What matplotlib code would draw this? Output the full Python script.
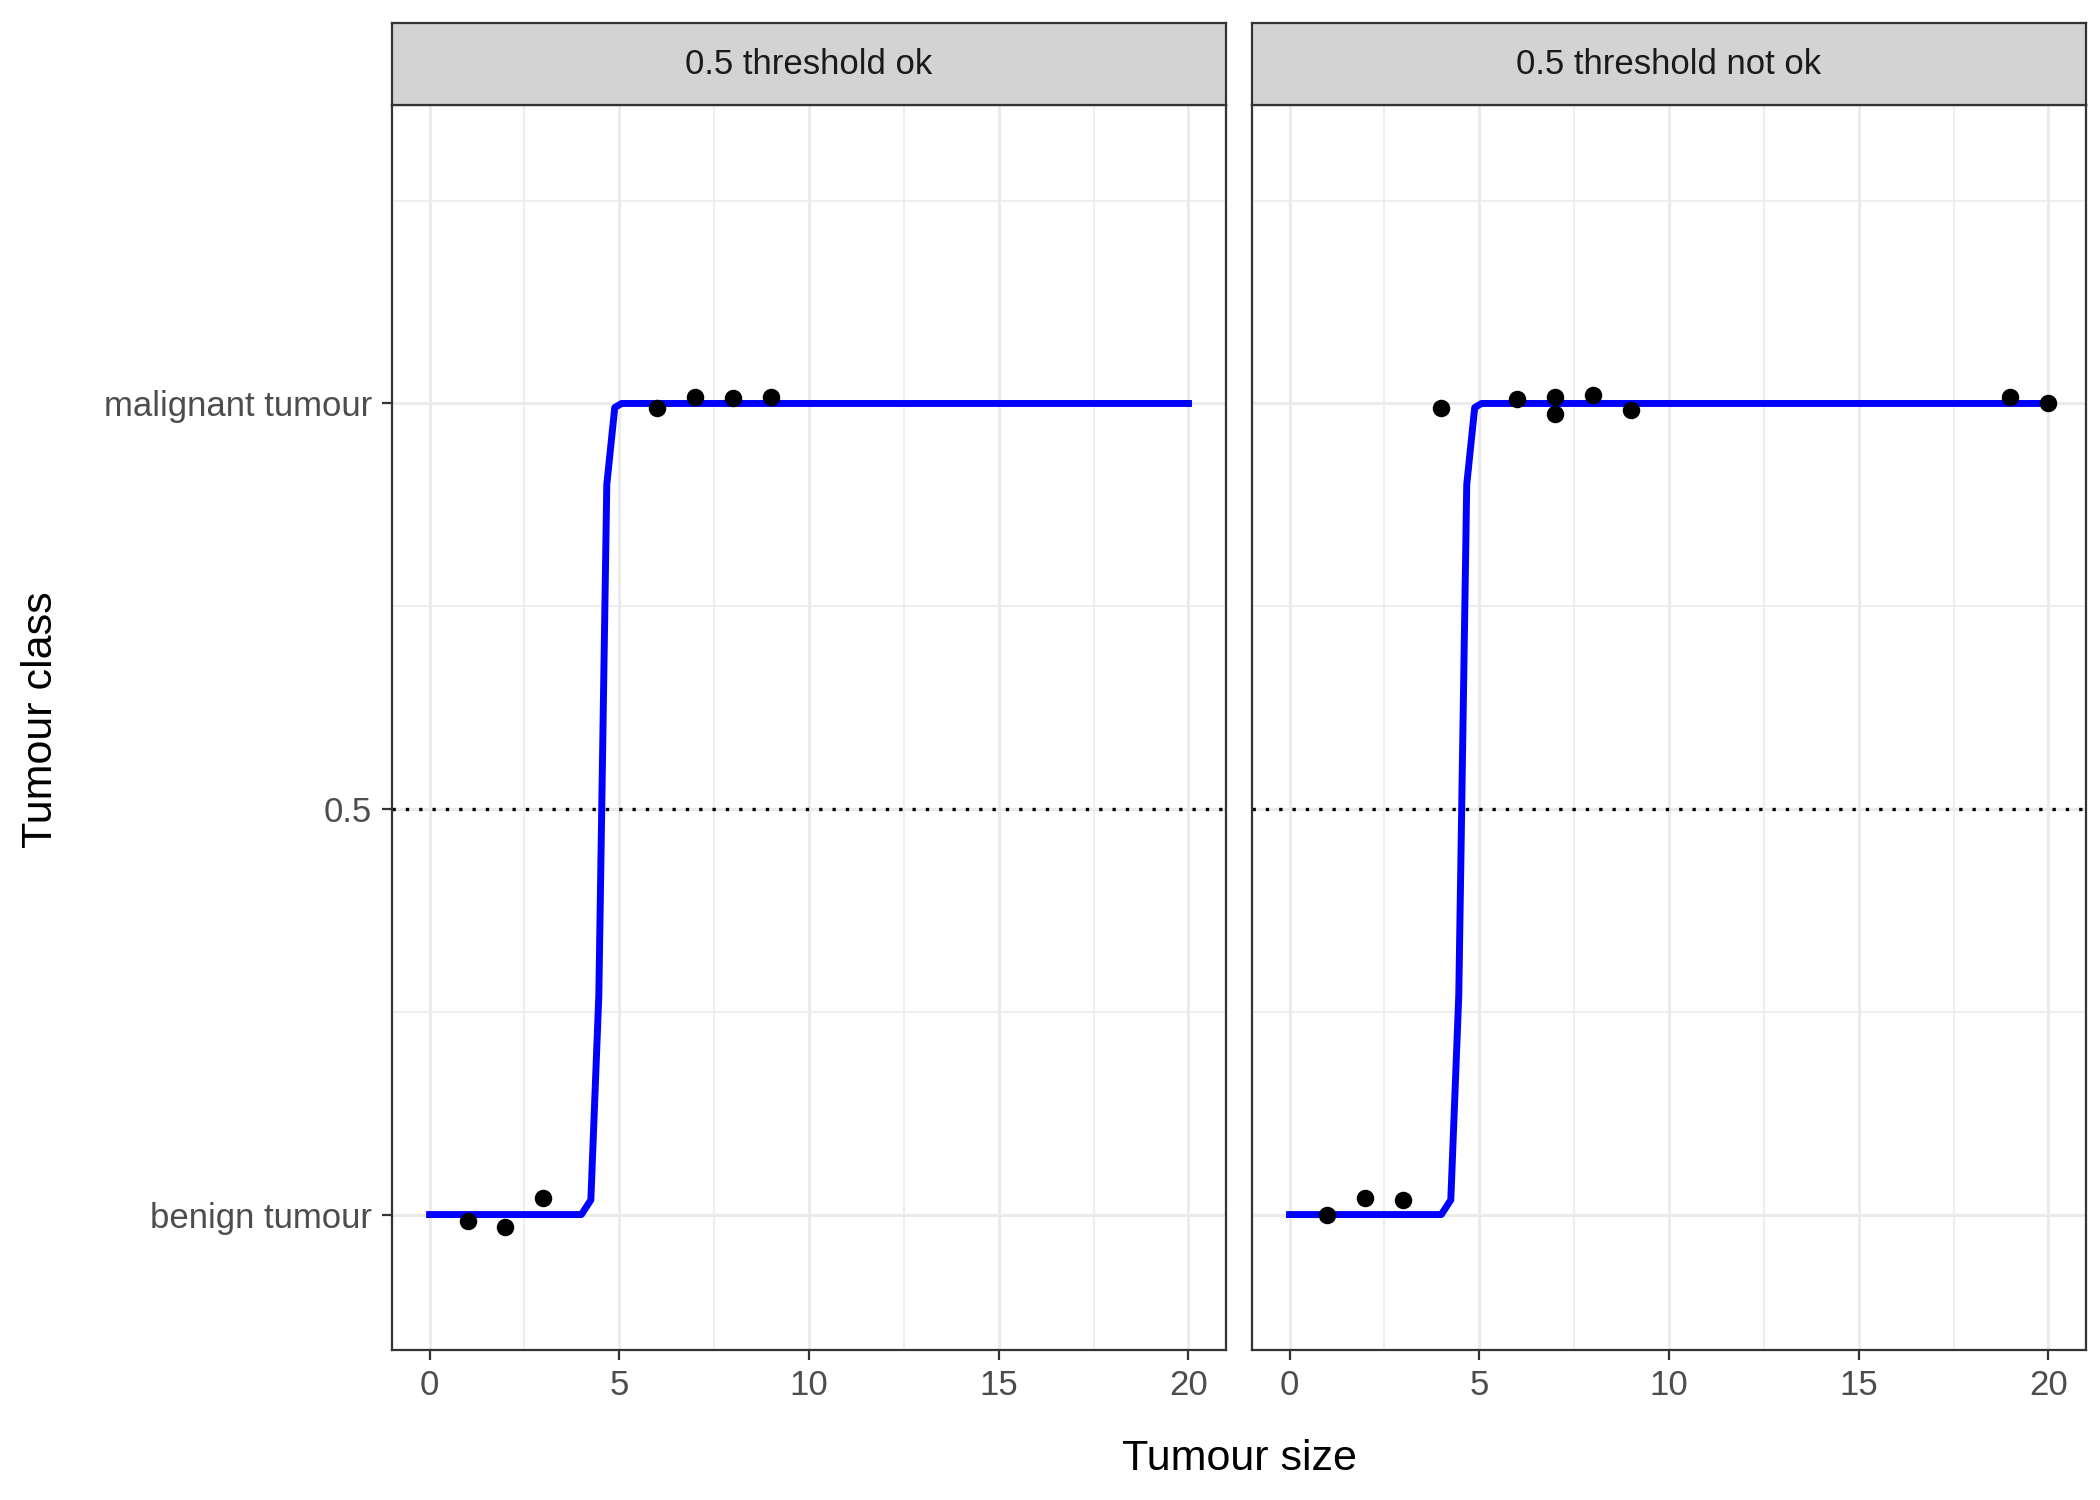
import matplotlib
matplotlib.use("Agg")
import matplotlib.pyplot as plt

plt.rcParams.update({"font.family": "Liberation Sans", "font.size": 12})

panel_titles = ["0.5 threshold ok", "0.5 threshold not ok"]

# fitted logistic curve
curve_x = [0, 4.0, 4.25, 4.46, 4.67, 4.88, 5.06, 20]
curve_y = [0, 0, 0.018, 0.27, 0.9, 0.995, 1.0, 1.0]

# jittered observations
ok_x = [1, 2, 3, 6, 7, 8, 9]
ok_y = [-0.008, -0.015, 0.02, 0.995, 1.008, 1.007, 1.008]
notok_x = [1, 2, 3, 4, 6, 7, 7, 8, 9, 19, 20]
notok_y = [0.0, 0.02, 0.018, 0.995, 1.005, 1.008, 0.987, 1.01, 0.992, 1.008, 1.0]

y_ticks = [0, 0.5, 1]
y_labels = ["benign tumour", "0.5", "malignant tumour"]

fig = plt.figure(figsize=(10.5, 7.5), dpi=200)
bottom, top = 0.1, 0.93
lefts = [0.1865, 0.596]
width = 0.3975
strip_h = 0.0545

for i, (title, px, py) in enumerate(zip(panel_titles, [ok_x, notok_x], [ok_y, notok_y])):
    ax = fig.add_axes([lefts[i], bottom, width, top - bottom])
    ax.set_xlim(-1, 21)
    ax.set_ylim(-0.167, 1.368)
    ax.set_xticks([0, 5, 10, 15, 20])
    ax.set_xticks([2.5, 7.5, 12.5, 17.5], minor=True)
    ax.set_yticks(y_ticks)
    ax.set_yticks([0.25, 0.75, 1.25], minor=True)
    ax.grid(which="major", color="#ebebeb", lw=1.1)
    ax.grid(which="minor", color="#ebebeb", lw=0.6)
    ax.set_axisbelow(True)
    ax.tick_params(which="minor", length=0)
    ax.tick_params(which="major", length=3.5, color="#333333", labelcolor="#4d4d4d", labelsize=12.5)
    if i == 0:
        ax.set_yticklabels(y_labels)
    else:
        ax.tick_params(axis="y", left=False, labelleft=False)
    for s in ax.spines.values():
        s.set_color("#333333")
        s.set_linewidth(0.8)
    ax.axhline(0.5, color="black", ls=(0, (1, 3)), lw=1.2)
    ax.plot(curve_x, curve_y, color="blue", lw=2.5)
    ax.scatter(px, py, color="black", s=28, zorder=3)

    sax = fig.add_axes([lefts[i], top, width, strip_h])
    sax.set_facecolor("#d3d3d3")
    sax.set_xticks([]); sax.set_yticks([])
    for s in sax.spines.values():
        s.set_color("#333333")
        s.set_linewidth(0.8)
    sax.text(0.5, 0.5, title, ha="center", va="center", fontsize=12.5, color="#1a1a1a",
             transform=sax.transAxes)

fig.text(0.59, 0.02, "Tumour size", ha="center", fontsize=15.5)
fig.text(0.01, 0.52, "Tumour class", va="center", rotation=90, fontsize=15.5)

fig.savefig("out.png", dpi=200, facecolor="white")
